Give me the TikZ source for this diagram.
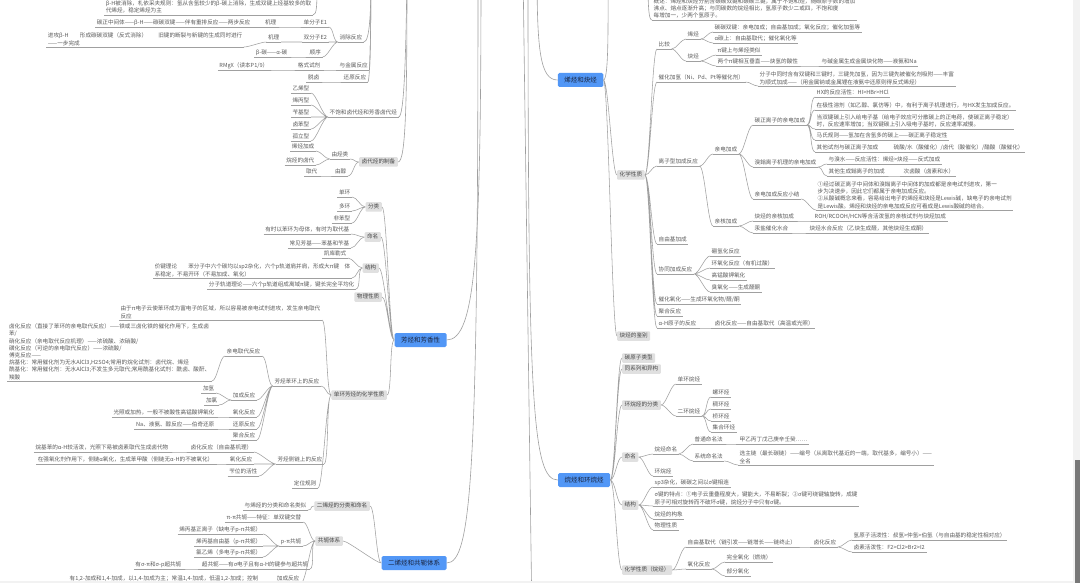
\documentclass[tikz,border=0pt]{standalone}
\usepackage{fontspec}
\setmainfont{Noto Sans CJK SC}
\usepackage{tikz}

\definecolor{mmblue}{RGB}{82,151,246}
\definecolor{bluetext}{RGB}{25,35,60}
\definecolor{boxgray}{RGB}{224,224,224}
\definecolor{boxtext}{RGB}{70,70,70}
\definecolor{leaftext}{RGB}{90,90,90}
\definecolor{linegray}{RGB}{160,160,160}
\definecolor{scrollbg}{RGB}{242,242,242}
\definecolor{scrollbar}{RGB}{120,120,120}
\newcommand{\leaffont}{\fontsize{5.6}{7.2}\selectfont}
\newcommand{\bluefont}{\fontsize{6.5}{7.8}\selectfont}

\begin{document}
\begin{tikzpicture}[x=1pt, y=-1pt,
        leaf/.style={font=\leaffont, text=leaftext, inner xsep=1.5pt, inner ysep=1.2pt, text height=4.6pt, text depth=1.2pt, append after command={(\tikzlastnode.south west) edge[uline] (\tikzlastnode.south east)}},
        note/.style={font=\leaffont, text=leaftext, inner xsep=1.5pt, inner ysep=1.2pt, align=left, append after command={(\tikzlastnode.south west) edge[uline] (\tikzlastnode.south east)}},
        uline/.style={draw=linegray, line width=0.55pt},
        topic/.style={fill=boxgray, text=boxtext, font=\leaffont, inner xsep=2.5pt, inner ysep=0pt, minimum height=9.5pt, text height=4.6pt, text depth=1.2pt, rounded corners=1pt},
        branchbox/.style={fill=mmblue, text=bluetext, font=\bluefont, inner xsep=6.5pt, inner ysep=0pt, minimum height=14pt, rounded corners=1.5pt},
        rline/.style={draw=linegray, line width=0.55pt, out=0, in=180, distance=5pt},
        lline/.style={draw=linegray, line width=0.55pt, out=180, in=0, distance=5pt},
        trunk/.style={draw=linegray, line width=0.6pt}]

    \useasboundingbox (0,0) rectangle (1080,583);
    \fill [white] (0,0) rectangle (1080,583);

    \coordinate (rootA) at (481,-30);
    \coordinate (rootB) at (478,-30);
    \coordinate (rootC) at (537,-30);
    \coordinate (rootD) at (528,-30);
    \coordinate (rootE) at (523,-30);
    \coordinate (downE) at (532,620);
    \coordinate (haloA) at (371,-30);
    \coordinate (haloB) at (407,-30);
    \coordinate (upB) at (317,-20);
    \coordinate (upG) at (648,-20);
    \coordinate (upH) at (608,-30);

    \node [note, anchor=south east] (bH) at (313,15) {β-H被消除，札依采夫规则：氢从含氢较少的β-碳上消除，生成双键上烃基较多的取\\代烯烃，稳定烯烃为主};
    \node [leaf, anchor=south west] (elim) at (338,42) {消除反应};
    \node [leaf, anchor=south west] (e1) at (302,27) {单分子E1};
    \node [leaf, anchor=south east] (e1m) at (278,27) {机理};
    \node [leaf, anchor=south east] (e1t) at (252,27) {碳正中间体——β-H——碳碳双键——伴有重排反应——两步反应};
    \node [leaf, anchor=south west] (e2) at (302,42) {双分子E2};
    \node [leaf, anchor=south east] (e2m) at (281,42) {机理};
    \node [note, anchor=south east] (e2t) at (244,47) {进攻β-H\qquad 形成碳碳双键（反式消除）\qquad 旧键的断裂与新键的生成同时进行\\——一步完成};
    \node [leaf, anchor=south west] (order) at (308,57) {顺序};
    \node [leaf, anchor=south east] (ordt) at (289,57) {β-碳——α-碳};
    \node [leaf, anchor=south west] (metal) at (338,70) {与金属反应};
    \node [leaf, anchor=south east] (grig) at (322,70) {格式试剂};
    \node [leaf, anchor=south east] (rmgx) at (270,70) {RMgX（读本P1/9）};
    \node [leaf, anchor=south west] (redc) at (342,82) {还原反应};
    \node [leaf, anchor=south east] (tuolu) at (321,82) {脱卤};
    \node [leaf, anchor=south west] (unsat) at (328,117) {不饱和卤代烃和芳香卤代烃};
    \node [leaf, anchor=south east] (tvin) at (311,93) {乙烯型};
    \node [leaf, anchor=south east] (tall) at (311,105) {烯丙型};
    \node [leaf, anchor=south east] (tbz) at (311,117) {苄基型};
    \node [leaf, anchor=south east] (tar) at (311,129) {卤苯型};
    \node [leaf, anchor=south east] (tiso) at (311,141) {孤立型};
    \node [topic, anchor=east] (prep) at (398,162) {卤代烃的制备};
    \node [leaf, anchor=south east] (fromhc) at (350,159) {由烃类};
    \node [leaf, anchor=south east] (alkadd) at (316,151) {烯烃加成};
    \node [leaf, anchor=south east] (alkhal) at (316,165) {烷烃的卤代};
    \node [leaf, anchor=south east] (fromal) at (348,176) {由醇};
    \node [leaf, anchor=south east] (subs) at (319,176) {取代};

    \node [branchbox] (arom) at (420.5,340) {芳烃和芳香性};
    \node [topic, anchor=east] (cls) at (382,207) {分类};
    \node [leaf, anchor=south east] (cmono) at (352,197) {单环};
    \node [leaf, anchor=south east] (cpoly) at (352,211) {多环};
    \node [leaf, anchor=south east] (cnon) at (352,223) {非苯型};
    \node [topic, anchor=east] (nom) at (381,237) {命名};
    \node [leaf, anchor=south east] (nom1) at (351,234) {有时以苯环为母体，有时为取代基};
    \node [leaf, anchor=south east] (nom2) at (351,248) {常见芳基——苯基和苄基};
    \node [topic, anchor=east] (str) at (379,268) {结构};
    \node [leaf, anchor=south east] (kek) at (348,258) {凯库勒式};
    \node [note, anchor=south east] (vb) at (352,278) {价键理论\qquad 苯分子中六个碳均以sp2杂化，六个p轨道肩并肩，形成大π键\quad 体\\系稳定，不易开环（不易加成、氧化）};
    \node [leaf, anchor=south east] (mo) at (356,289) {分子轨道理论——六个p轨道组成离域π键，键长完全平均化};
    \node [topic, anchor=east] (phys) at (382,297) {物理性质};
    \node [topic, anchor=east] (chem) at (387,395) {单环芳烃的化学性质};
    \node [note, anchor=south east] (ea) at (322,320) {由于π电子云使苯环成为富电子的区域，所以容易被亲电试剂进攻，发生亲电取代\\反应};
    \node [leaf, anchor=south east] (ring) at (321,386) {芳烃苯环上的反应};
    \node [leaf, anchor=south east] (side) at (324,464) {芳烃侧链上的反应};
    \node [leaf, anchor=south east] (orient) at (318,488) {定位规则};
    \node [leaf, anchor=south east] (ease) at (262,356) {亲电取代反应};
    \node [note, anchor=south east] (eblock) at (212,381) {卤化反应（直接了苯环的亲电取代反应）——铁或三卤化铁的催化作用下，生成卤\\苯/\\硝化反应（亲电取代反应机理）——浓硫酸、浓硝酸/\\磺化反应（可逆的亲电取代反应）——浓硫酸/\\傅克反应——\\烷基化：常用催化剂为无水AlCl3,H2SO4;常用的烷化试剂：卤代烷、烯烃\\酰基化：常用催化剂：无水AlCl3;不发生多元取代;常用酰基化试剂：酰卤、酸酐、\\羧酸};
    \node [leaf, anchor=south east] (addn) at (257,400) {加成反应};
    \node [leaf, anchor=south east] (h2add) at (216,393) {加氢};
    \node [leaf, anchor=south east] (cl2add) at (219,405) {加氯};
    \node [leaf, anchor=south east] (oxid) at (257,417) {氧化反应};
    \node [leaf, anchor=south east] (oxt) at (216,417) {光照或加热，一般不被酸性高锰酸钾氧化};
    \node [leaf, anchor=south east] (redn) at (257,429) {还原反应};
    \node [leaf, anchor=south east] (redt) at (216,429) {Na、液氨、醇反应——伯奇还原};
    \node [leaf, anchor=south east] (poly) at (257,440) {聚合反应};
    \node [leaf, anchor=south east] (sidehal) at (254,452) {卤化反应（自由基机理）};
    \node [leaf, anchor=south east] (sidehalt) at (170,452) {烷基苯的α-H较活泼，光照下易被卤素取代生成卤代物};
    \node [leaf, anchor=south east] (sideox) at (254,464) {氧化反应};
    \node [leaf, anchor=south east] (sideoxt) at (215,464) {在强氧化剂作用下，侧链α氧化，生成苯甲酸（侧链无α-H的不被氧化）};
    \node [leaf, anchor=south east] (sidex) at (259,476) {苄位的活性};

    \node [branchbox] (diene) at (414,563) {二烯烃和共轭体系};
    \node [topic, anchor=east] (dnom) at (370,506) {二烯烃的分类和命名};
    \node [leaf, anchor=south east] (dnomt) at (308,510) {与烯烃的分类和命名类似};
    \node [topic, anchor=east] (conj) at (343,541) {共轭体系};
    \node [leaf, anchor=south east] (pipi) at (303,522) {π-π共轭——特征：单双键交替};
    \node [leaf, anchor=south east] (ppi) at (303,546) {p-π共轭};
    \node [leaf, anchor=south east] (allyl) at (263,534) {烯丙基正离子（缺电子p-π共轭）};
    \node [leaf, anchor=south east] (allylr) at (263,546) {烯丙基自由基（p-π共轭）};
    \node [leaf, anchor=south east] (vinyl) at (263,557) {氯乙烯（多电子p-π共轭）};
    \node [leaf, anchor=south east] (hyper) at (310,569) {超共轭——有σ电子且有α-H的键参与超共轭};
    \node [leaf, anchor=south east] (hypert) at (183,569) {有σ-π和σ-p超共轭};
    \node [leaf, anchor=south east] (d14) at (301,583) {加成反应};
    \node [leaf, anchor=south east] (d14t) at (260,583) {有1,2-加成和1,4-加成，以1,4-加成为主；常温1,4-加成，低温1,2-加成；控制};

    \node [branchbox] (alkene) at (580.5,80) {烯烃和炔烃};
    \node [note, anchor=south west] (gaishu) at (652,20) {概述：烯烃和炔烃分别含碳碳双键和碳碳三键，属于不饱和烃，随碳原子数的增加\\沸点、熔点逐渐升高；与同碳数的烷烃相比，氢原子数少二或四，不饱和度\\每增加一，少两个氢原子。};
    \node [topic, anchor=west] (chem2) at (617,175) {化学性质};
    \node [topic, anchor=west] (jianbie) at (617,336) {炔烃的鉴别};
    \node [leaf, anchor=south west] (cmp) at (657,49) {比较};
    \node [leaf, anchor=south west] (ene) at (686,39) {烯烃};
    \node [leaf, anchor=south west] (yne) at (686,61) {炔烃};
    \node [leaf, anchor=south west] (ene1) at (713,32) {碳碳双键：亲电加成；自由基加成；氧化反应；催化加氢等};
    \node [leaf, anchor=south west] (ene2) at (713,43) {α碳上：自由基取代；催化氧化等};
    \node [leaf, anchor=south west] (yne1) at (716,55) {π键上与烯烃类似};
    \node [leaf, anchor=south west] (acid) at (716,66) {两个π键相互垂直——炔氢的酸性};
    \node [leaf, anchor=south west] (acid2) at (820,66) {与碱金属生成金属炔化物——液氨和Na};
    \node [leaf, anchor=south west] (hydro) at (657,82) {催化加氢（Ni、Pd、Pt等催化剂）};
    \node [note, anchor=south west] (hydro2) at (758,86) {分子中同时含有双键和三键时，三键先加氢，因为三键先被催化剂吸附——丰富\\为顺式加成——（用金属钠或金属锂在液氨中还原则得反式烯烃）};
    \node [leaf, anchor=south west] (ionic) at (657,166) {离子型加成反应};
    \node [leaf, anchor=south west] (elec) at (713,154) {亲电加成};
    \node [leaf, anchor=south west] (carb) at (753,125) {碳正离子的亲电加成};
    \node [leaf, anchor=south west] (c1) at (815,97) {HX的反应活性：HI>HBr>HCl};
    \node [leaf, anchor=south west] (c2) at (815,110) {在极性溶剂（如乙醇、氯仿等）中，有利于离子机理进行，与HX发生加成反应。};
    \node [note, anchor=south west] (c3) at (815,129) {当双键碳上引入给电子基（给电子效应可分散碳上的正电荷，使碳正离子稳定）\\时，反应速率增加；当双键碳上引入吸电子基时，反应速率减慢。};
    \node [leaf, anchor=south west] (c4) at (815,140) {马氏规则——氢加在含氢多的碳上——碳正离子稳定性};
    \node [leaf, anchor=south west] (oth) at (815,152) {其他试剂与碳正离子加成};
    \node [leaf, anchor=south west] (oth2) at (892,152) {硫酸/水（酸催化）/卤代（酸催化）/醋酸（酸催化）};
    \node [leaf, anchor=south west] (brom) at (753,167) {溴鎓离子机理的亲电加成};
    \node [leaf, anchor=south west] (brw) at (827,164) {与溴水——反应活性：烯烃>炔烃——反式加成};
    \node [leaf, anchor=south west] (oth3) at (827,176) {其他生成鎓离子的加成};
    \node [leaf, anchor=south west] (hypo) at (902,176) {次卤酸（卤素和水）};
    \node [leaf, anchor=south west] (sumup) at (753,199) {亲电加成反应小结};
    \node [note, anchor=south west] (sumt) at (816,210) {①经过碳正离子中间体和溴鎓离子中间体的加成都是亲电试剂进攻，第一\\步为决速步，因此它们都属于亲电加成反应。\\②从酸碱概念来看，容易给出电子的烯烃和炔烃是Lewis碱，缺电子的亲电试剂\\是Lewis酸。烯烃和炔烃的亲电加成反应可看成是Lewis酸碱的结合。};
    \node [leaf, anchor=south west] (nuc) at (713,226) {亲核加成};
    \node [leaf, anchor=south west] (nuc1) at (753,221) {炔烃的亲核加成};
    \node [leaf, anchor=south west] (nuc1t) at (813,221) {ROH/RCOOH/HCN等含活泼氢的亲核试剂与炔烃加成};
    \node [leaf, anchor=south west] (nuc2) at (753,233) {汞盐催化水合};
    \node [leaf, anchor=south west] (nuc2t) at (808,233) {炔烃水合反应（乙炔生成醛，其他炔烃生成酮）};
    \node [leaf, anchor=south west] (rad) at (657,244) {自由基加成};
    \node [leaf, anchor=south west] (conc) at (657,274) {协同加成反应};
    \node [leaf, anchor=south west] (bh3) at (710,256) {硼氢化反应};
    \node [leaf, anchor=south west] (epox) at (710,268) {环氧化反应（有机过酸）};
    \node [leaf, anchor=south west] (kmno) at (710,280) {高锰酸钾氧化};
    \node [leaf, anchor=south west] (ozon) at (710,292) {臭氧化——生成醛酮};
    \node [leaf, anchor=south west] (catox) at (657,304) {催化氧化——生成环氧化物/醛/酮};
    \node [leaf, anchor=south west] (polym) at (657,316) {聚合反应};
    \node [leaf, anchor=south west] (alpha) at (657,328) {α-H原子的反应};
    \node [leaf, anchor=south west] (alpha2) at (713,328) {卤化反应——自由基取代（高温或光照）};

    \node [branchbox] (alkane) at (584,480) {烷烃和环烷烃};
    \node [topic, anchor=west] (ctype) at (622,358) {碳原子类型};
    \node [topic, anchor=west] (iso) at (622,369) {同系列和异构};
    \node [topic, anchor=west] (ccls) at (622,405) {环烷烃的分类};
    \node [leaf, anchor=south west] (mono) at (676,384) {单环烷烃};
    \node [leaf, anchor=south west] (bi) at (676,416) {二环烷烃};
    \node [leaf, anchor=south west] (spiro) at (711,397) {螺环烃};
    \node [leaf, anchor=south west] (fused) at (711,409) {稠环烃};
    \node [leaf, anchor=south west] (bridge) at (711,421) {桥环烃};
    \node [leaf, anchor=south west] (assem) at (711,432) {集合环烃};
    \node [topic, anchor=west] (cnom) at (622,457) {命名};
    \node [leaf, anchor=south west] (anom) at (653,454) {烷烃命名};
    \node [leaf, anchor=south west] (common) at (693,444) {普通命名法};
    \node [leaf, anchor=south west] (commont) at (738,444) {甲乙丙丁戊己庚辛壬癸……};
    \node [leaf, anchor=south west] (sysn) at (693,461) {系统命名法};
    \node [note, anchor=south west] (sysnt) at (738,465) {选主链（最长碳链）——编号（从离取代基近的一端，取代基多，编号小）——\\全名};
    \node [leaf, anchor=south west] (cyc) at (653,476) {环烷烃};
    \node [topic, anchor=west] (cstr) at (622,505) {结构};
    \node [leaf, anchor=south west] (sp3) at (653,487) {sp3杂化，碳碳之间以σ键相连};
    \node [note, anchor=south west] (sigma) at (653,506) {σ键的特点：①电子云重叠程度大，键能大，不易断裂；②σ键可绕键轴旋转，成键\\原子可相对旋转而不破坏σ键，烷烃分子中只有σ键。};
    \node [leaf, anchor=south west] (confo) at (653,519) {烷烃的构象};
    \node [leaf, anchor=south west] (aphys) at (653,530) {物理性质};
    \node [topic, anchor=west] (cchem) at (622,570) {化学性质（烷烃）};
    \node [leaf, anchor=south west] (frs) at (686,547) {自由基取代（链引发——链增长——链终止）};
    \node [leaf, anchor=south west] (halg) at (812,547) {卤化反应};
    \node [leaf, anchor=south west] (hact) at (852,540) {氢原子活泼性：叔氢>仲氢>伯氢（与自由基的稳定性相对应）};
    \node [leaf, anchor=south west] (xact) at (852,552) {卤素活泼性：F2>Cl2>Br2>I2};
    \node [leaf, anchor=south west] (ox) at (686,569) {氧化反应};
    \node [leaf, anchor=south west] (burn) at (725,562) {完全氧化（燃烧）};
    \node [leaf, anchor=south west] (pox) at (725,576) {部分氧化};

    \path [trunk] (arom.east) .. controls (476,340) and (481,250) .. (rootA);
    \path [trunk] (diene.east) .. controls (472,563) and (478,470) .. (rootB);
    \path [trunk] (rootC) .. controls (537,50) and (540,80) .. (alkene.west);
    \path [trunk] (rootD) .. controls (528,400) and (532,480) .. (alkane.west);
    \path [trunk] (rootE) -- (downE);
    \path [trunk] (elim.south east) .. controls (370,42) and (371,10) .. (haloA);
    \path [trunk] (metal.south east) .. controls (370,70) and (371,20) .. (haloA);
    \path [trunk] (redc.south east) .. controls (370,82) and (371,30) .. (haloA);
    \path [trunk] (unsat.south east) .. controls (404,117) and (406,60) .. (haloB);
    \path [trunk] (prep.east) .. controls (406,162) and (407,100) .. (haloB);
    \path [trunk] (bH.south east) .. controls (317,15) and (317,5) .. (upB);
    \path [trunk] (upG) .. controls (648,10) and (649,20) .. (gaishu.south west);
    \path [trunk] (alkene.east) .. controls (609,80) and (608,20) .. (upH);

    \path [lline] (elim.south west) to (e1.south east) (elim.south west) to (e2.south east) (elim.south west) to (order.south east);
    \path [lline] (e1.south west) to (e1m.south east) (e1m.south west) to (e1t.south east);
    \path [lline] (e2.south west) to (e2m.south east) (e2m.south west) to (e2t.south east);
    \path [lline] (order.south west) to (ordt.south east);
    \path [lline] (metal.south west) to (grig.south east) (grig.south west) to (rmgx.south east);
    \path [lline] (redc.south west) to (tuolu.south east);
    \path [lline] (unsat.south west) to (tvin.south east) (unsat.south west) to (tall.south east) (unsat.south west) to (tbz.south east) (unsat.south west) to (tar.south east) (unsat.south west) to (tiso.south east);
    \path [lline] (prep.west) to (fromhc.south east) (prep.west) to (fromal.south east);
    \path [lline] (fromhc.south west) to (alkadd.south east) (fromhc.south west) to (alkhal.south east);
    \path [lline] (fromal.south west) to (subs.south east);

    \path [lline] (arom.west) to (cls.east) (arom.west) to (nom.east) (arom.west) to (str.east) (arom.west) to (phys.east) (arom.west) to (chem.east);
    \path [lline] (cls.west) to (cmono.south east) (cls.west) to (cpoly.south east) (cls.west) to (cnon.south east);
    \path [lline] (nom.west) to (nom1.south east) (nom.west) to (nom2.south east);
    \path [lline] (str.west) to (kek.south east) (str.west) to (vb.south east) (str.west) to (mo.south east);
    \path [lline] (chem.west) to (ea.south east) (chem.west) to (ring.south east) (chem.west) to (side.south east) (chem.west) to (orient.south east);
    \path [lline] (ring.south west) to (ease.south east) (ring.south west) to (addn.south east) (ring.south west) to (oxid.south east) (ring.south west) to (redn.south east) (ring.south west) to (poly.south east);
    \path [lline] (ease.south west) to (eblock.south east);
    \path [lline] (addn.south west) to (h2add.south east) (addn.south west) to (cl2add.south east);
    \path [lline] (oxid.south west) to (oxt.south east);
    \path [lline] (redn.south west) to (redt.south east);
    \path [lline] (side.south west) to (sidehal.south east) (side.south west) to (sideox.south east) (side.south west) to (sidex.south east);
    \path [lline] (sidehal.south west) to (sidehalt.south east);
    \path [lline] (sideox.south west) to (sideoxt.south east);

    \path [lline] (diene.west) to (dnom.east) (diene.west) to (conj.east);
    \path [lline] (dnom.west) to (dnomt.south east);
    \path [lline] (conj.west) to (pipi.south east) (conj.west) to (ppi.south east) (conj.west) to (hyper.south east) (conj.west) to (d14.south east);
    \path [lline] (ppi.south west) to (allyl.south east) (ppi.south west) to (allylr.south east) (ppi.south west) to (vinyl.south east);
    \path [lline] (hyper.south west) to (hypert.south east);
    \path [lline] (d14.south west) to (d14t.south east);

    \path [rline] (alkene.east) to (chem2.west) (alkene.east) to (jianbie.west);
    \path [rline] (chem2.east) to (cmp.south west) (chem2.east) to (hydro.south west) (chem2.east) to (ionic.south west) (chem2.east) to (rad.south west) (chem2.east) to (conc.south west) (chem2.east) to (catox.south west) (chem2.east) to (polym.south west) (chem2.east) to (alpha.south west);
    \path [rline] (cmp.south east) to (ene.south west) (cmp.south east) to (yne.south west);
    \path [rline] (ene.south east) to (ene1.south west) (ene.south east) to (ene2.south west);
    \path [rline] (yne.south east) to (yne1.south west) (yne.south east) to (acid.south west);
    \path [rline] (acid.south east) to (acid2.south west);
    \path [rline] (hydro.south east) to (hydro2.south west);
    \path [rline] (ionic.south east) to (elec.south west) (ionic.south east) to (nuc.south west);
    \path [rline] (elec.south east) to (carb.south west) (elec.south east) to (brom.south west) (elec.south east) to (sumup.south west);
    \path [rline] (carb.south east) to (c1.south west) (carb.south east) to (c2.south west) (carb.south east) to (c3.south west) (carb.south east) to (c4.south west) (carb.south east) to (oth.south west);
    \path [rline] (oth.south east) to (oth2.south west);
    \path [rline] (brom.south east) to (brw.south west) (brom.south east) to (oth3.south west);
    \path [rline] (oth3.south east) to (hypo.south west);
    \path [rline] (sumup.south east) to (sumt.south west);
    \path [rline] (nuc.south east) to (nuc1.south west) (nuc.south east) to (nuc2.south west);
    \path [rline] (nuc1.south east) to (nuc1t.south west);
    \path [rline] (nuc2.south east) to (nuc2t.south west);
    \path [rline] (conc.south east) to (bh3.south west) (conc.south east) to (epox.south west) (conc.south east) to (kmno.south west) (conc.south east) to (ozon.south west);
    \path [rline] (alpha.south east) to (alpha2.south west);

    \path [rline] (alkane.east) to (ctype.west) (alkane.east) to (iso.west) (alkane.east) to (ccls.west) (alkane.east) to (cnom.west) (alkane.east) to (cstr.west) (alkane.east) to (cchem.west);
    \path [rline] (ccls.east) to (mono.south west) (ccls.east) to (bi.south west);
    \path [rline] (bi.south east) to (spiro.south west) (bi.south east) to (fused.south west) (bi.south east) to (bridge.south west) (bi.south east) to (assem.south west);
    \path [rline] (cnom.east) to (anom.south west) (cnom.east) to (cyc.south west);
    \path [rline] (anom.south east) to (common.south west) (anom.south east) to (sysn.south west);
    \path [rline] (common.south east) to (commont.south west);
    \path [rline] (sysn.south east) to (sysnt.south west);
    \path [rline] (cstr.east) to (sp3.south west) (cstr.east) to (sigma.south west) (cstr.east) to (confo.south west) (cstr.east) to (aphys.south west);
    \path [rline] (cchem.east) to (frs.south west) (cchem.east) to (ox.south west);
    \path [rline] (frs.south east) to (halg.south west);
    \path [rline] (halg.south east) to (hact.south west) (halg.south east) to (xact.south west);
    \path [rline] (ox.south east) to (burn.south west) (ox.south east) to (pox.south west);

    \fill [scrollbg] (0,580.5) rectangle (1080,583);
    \fill [scrollbg] (1073,0) rectangle (1080,583);
    \fill [scrollbar] (1075,460) rectangle (1080,583);
\end{tikzpicture}
\end{document}
